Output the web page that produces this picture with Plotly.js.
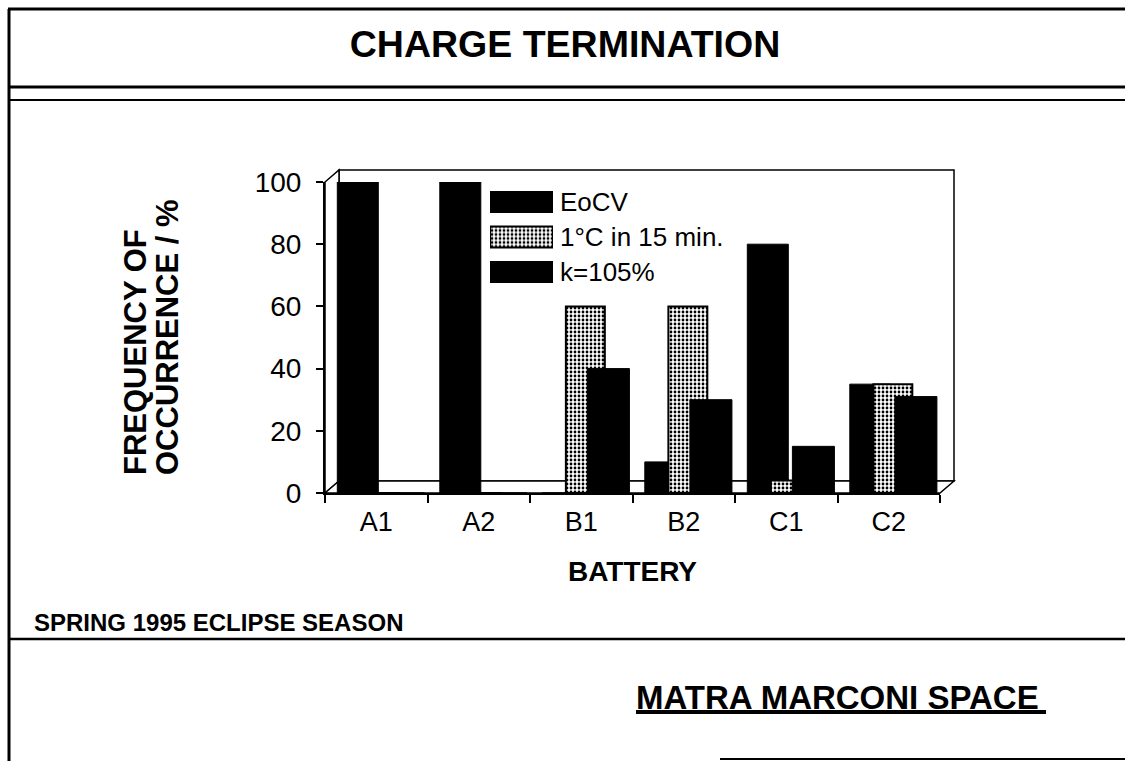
<!DOCTYPE html>
<html>
<head>
<meta charset="utf-8">
<script src="https://cdn.plot.ly/plotly-3.0.1.min.js"></script>
<style>
html,body{margin:0;padding:0;background:#ffffff;}
#chart{width:1125px;height:761px;}
</style>
</head>
<body>
<div id="chart"></div>
<script>
// ---- data ----
const batteries = ['A1', 'A2', 'B1', 'B2', 'C1', 'C2'];
const seriesNames = ['EoCV', '1°C in 15 min.', 'k=105%'];
const eocv = [100, 100, 0, 10, 80, 35];
const oneDegree = [0, 0, 60, 60, 4, 35];
const k105 = [0, 0, 40, 30, 15, 31];
const yTicks = [0, 20, 40, 60, 80, 100];
const legendSwatch = [1, 1, 1];

// ---- geometry ----
const W = 1125, H = 761;
const M = {l: 325, r: 185, t: 182, b: 268};
const PW = W - M.l - M.r, PH = H - M.t - M.b;
const px = x => (x - M.l) / PW;
const py = y => (H - M.b - y) / PH;
const FONT = 'Liberation Sans, Arial, Helvetica, sans-serif';

const dotPattern = {shape: '.', fgcolor: '#000000', bgcolor: '#ffffff', size: 4, solidity: 0.38};
const styles = [
  {color: '#000000', line: {color: '#000000', width: 1}},
  {color: '#ffffff', pattern: dotPattern, line: {color: '#000000', width: 2}},
  {color: '#000000', line: {color: '#000000', width: 1}}
];
const values = [eocv, oneDegree, k105];
const offsets = [-0.38, -0.15, 0.06];
const widths = [0.40, 0.38, 0.41];

const traces = values.map((v, i) => ({
  type: 'bar', x: batteries, y: v, name: seriesNames[i],
  offset: offsets[i], width: widths[i],
  marker: styles[i], showlegend: false, xaxis: 'x', yaxis: 'y'
}));

// legend drawn as a small subplot so the swatches match the original size
seriesNames.forEach((n, i) => {
  traces.push({
    type: 'bar', orientation: 'h', y: [n], x: [legendSwatch[i]], width: 0.6,
    marker: styles[i], showlegend: false, xaxis: 'x2', yaxis: 'y2', hoverinfo: 'skip'
  });
});

// ---- decorative 3D box and page frame ----
const dx = 14, dy = 12;
const X0 = M.l, X1 = W - M.r, Y0 = H - M.b, Y1 = M.t;
function seg(x0, y0, x1, y1, w, layer) {
  return {type: 'line', xref: 'paper', yref: 'paper', x0: px(x0), y0: py(y0), x1: px(x1), y1: py(y1),
    line: {color: '#000000', width: w}, layer: layer || 'above'};
}
function poly(pts, layer) {
  const d = pts.map((p, i) => (i ? 'L' : 'M') + px(p[0]) + ',' + py(p[1])).join(' ') + ' Z';
  return {type: 'path', xref: 'paper', yref: 'paper', path: d, fillcolor: '#ffffff',
    line: {color: '#000000', width: 1.5}, layer: layer || 'below'};
}
const shapes = [
  // back wall
  poly([[X0 + dx, Y1 - dy], [X1 + dx, Y1 - dy], [X1 + dx, Y0 - dy], [X0 + dx, Y0 - dy]]),
  // left wall
  poly([[X0, Y0], [X0, Y1], [X0 + dx, Y1 - dy], [X0 + dx, Y0 - dy]]),
  // floor
  poly([[X0, Y0], [X1, Y0], [X1 + dx, Y0 - dy], [X0 + dx, Y0 - dy]]),
  // page frame
  seg(8, 9, W, 9, 3),
  seg(9, 9, 9, H, 3),
  seg(9, 87, W, 87, 3),
  seg(9, 100, W, 100, 2),
  seg(9, 639, W, 639, 2.5),
  seg(636, 712, 1046, 712, 4),
  seg(720, 759, W, 759, 2)
];

const annotations = [
  {text: 'FREQUENCY OF', xref: 'paper', yref: 'paper', x: px(135), y: py(477), xanchor: 'center', yanchor: 'bottom',
   textangle: -90, showarrow: false, font: {family: FONT, size: 31, weight: 700, color: '#000'}},
  {text: 'OCCURRENCE / %', xref: 'paper', yref: 'paper', x: px(167), y: py(477), xanchor: 'center', yanchor: 'bottom',
   textangle: -90, showarrow: false, font: {family: FONT, size: 31, weight: 700, color: '#000'}},
  {text: 'SPRING 1995 ECLIPSE SEASON', xref: 'paper', yref: 'paper', x: px(32), y: py(622), xanchor: 'left', yanchor: 'middle',
   showarrow: false, font: {family: FONT, size: 24, weight: 700, color: '#000'}},
  {text: 'MATRA MARCONI SPACE', xref: 'paper', yref: 'paper', x: px(634), y: py(697), xanchor: 'left', yanchor: 'middle',
   showarrow: false, font: {family: FONT, size: 33, weight: 700, color: '#000'}}
];

const layout = {
  width: W, height: H,
  margin: M,
  paper_bgcolor: '#ffffff', plot_bgcolor: 'rgba(0,0,0,0)',
  barmode: 'overlay',
  showlegend: false,
  font: {family: FONT, color: '#000000'},
  title: {text: 'CHARGE TERMINATION', xref: 'container', yref: 'container', x: 565 / W, y: 1 - 44 / H,
    xanchor: 'center', yanchor: 'middle', font: {family: FONT, size: 37.5, weight: 700, color: '#000'}},
  xaxis: {
    type: 'category', categoryorder: 'array', categoryarray: batteries, range: [-0.5, 5.5],
    showline: true, linecolor: '#000', linewidth: 2, showgrid: false, zeroline: false,
    ticks: 'outside', tickson: 'boundaries', ticklen: 8, tickwidth: 2, tickcolor: '#000',
    tickfont: {family: FONT, size: 27, color: '#000'}, ticklabelstandoff: 4,
    title: {text: 'BATTERY', standoff: 25, font: {family: FONT, size: 28, weight: 700, color: '#000'}},
    fixedrange: true
  },
  yaxis: {
    range: [0, 100], tickvals: yTicks, ticktext: yTicks.map(String),
    showline: true, linecolor: '#000', linewidth: 2, showgrid: false, zeroline: false,
    ticks: 'outside', ticklen: 7, tickwidth: 2, tickcolor: '#000', ticklabelstandoff: 9,
    tickfont: {family: FONT, size: 28, color: '#000'}, fixedrange: true
  },
  xaxis2: {domain: [px(490), px(553)], range: [0, 1], anchor: 'y2', visible: false, fixedrange: true},
  yaxis2: {
    domain: [py(289.5), py(184.5)], anchor: 'x2', side: 'right', type: 'category',
    categoryorder: 'array', categoryarray: seriesNames, range: [2.5, -0.5],
    showline: false, showgrid: false, zeroline: false, ticks: '', ticklabelstandoff: 6,
    tickfont: {family: FONT, size: 26, color: '#000'}, fixedrange: true
  },
  shapes: shapes,
  annotations: annotations
};

Plotly.newPlot('chart', traces, layout, {displayModeBar: false, staticPlot: true});
</script>
</body>
</html>
